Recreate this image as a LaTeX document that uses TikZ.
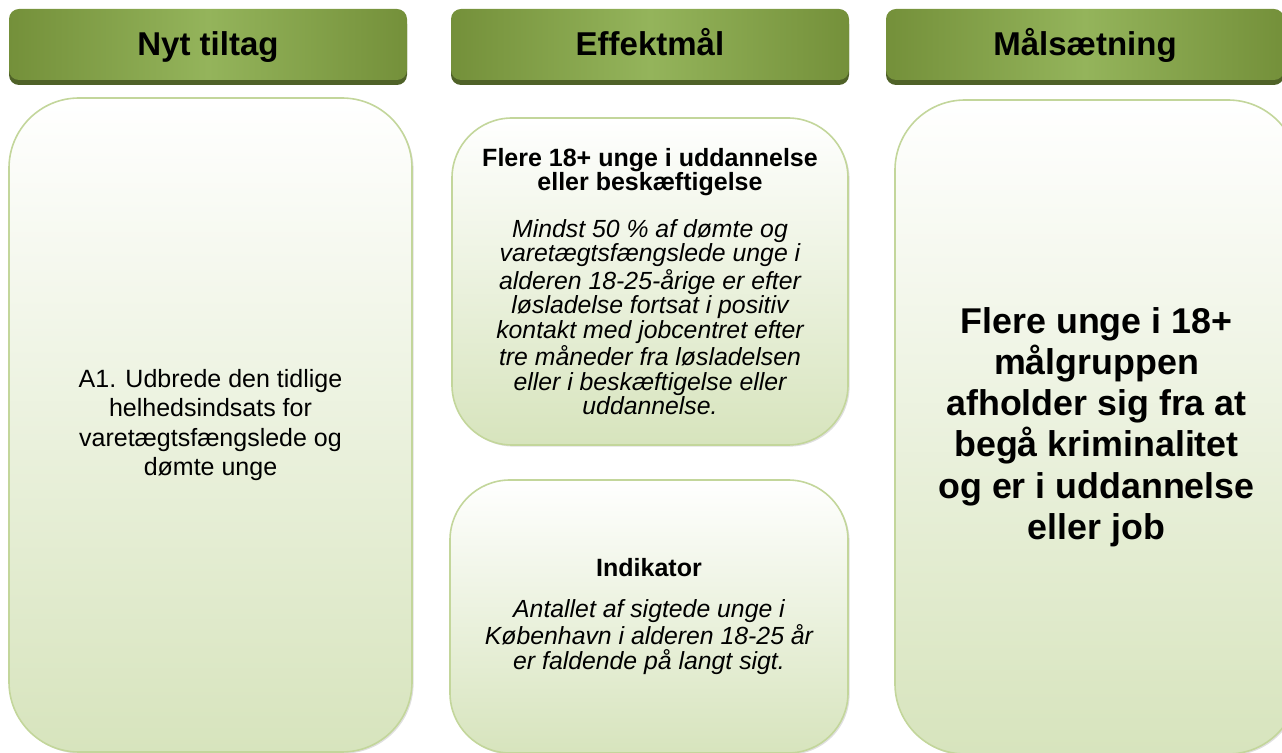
\documentclass[tikz,border=0pt]{standalone}
\usepackage{fontspec}
\setmainfont{Liberation Sans}
\usetikzlibrary{shadows}
\definecolor{hdgreen}{HTML}{74903A}
\definecolor{hdlight}{HTML}{94B45B}
\definecolor{hddark}{HTML}{4F6228}
\definecolor{panelgreen}{HTML}{D7E4BD}
\definecolor{panelline}{HTML}{C3D69B}

\begin{document}
\begin{tikzpicture}[x=0.5pt,y=-0.5pt,
    headbox/.style={rounded corners=5pt, minimum width=199pt, minimum height=35.5pt, inner sep=0pt,
        left color=hdgreen, right color=hdgreen, middle color=hdlight,
        text height=15pt, text depth=3.5pt,
        font=\bfseries\fontsize{16.5}{19}\selectfont},
    headshadow/.style={rounded corners=5pt, minimum width=199pt, minimum height=35.5pt, fill=hddark},
    panel/.style={rounded corners=35pt, draw=panelline, line width=0.8pt, inner sep=0pt,
        top color=white, bottom color=panelgreen, align=center,
        drop shadow={shadow xshift=0.8pt, shadow yshift=-0.8pt, opacity=0.25}}]
    \useasboundingbox (0,0) rectangle (1282,753);

    % column headers
    \foreach \name/\cx/\txt in {nyt/208/Nyt tiltag, effekt/650/Effektmål, maal/1085/Målsætning}{
        \node[headshadow] at (\cx,49.5) {};
        \node[headbox] (\name) at (\cx,44.5) {\txt};
    }

    % panels
    \node[panel, minimum width=201.5pt, minimum height=327pt,
          font=\fontsize{12.5}{14.6}\selectfont] (tiltag) at (210.5,425)
        {A1. Udbrede den tidlige\\helhedsindsats for\\varetægtsfængslede og\\dømte unge};

    \node[panel, minimum width=198pt, minimum height=163.5pt, rounded corners=30pt,
          font=\itshape\fontsize{12.4}{12.3}\selectfont] (effektA) at (650,281.5)
        {{\upshape\bfseries\fontsize{12.5}{13}\selectfont Flere 18+ unge i uddannelse}\\
         {\upshape\bfseries\fontsize{12.5}{13}\selectfont eller beskæftigelse}\\[11pt]
         Mindst 50 \% af dømte og\\varetægtsfængslede unge i\\alderen 18-25-årige er efter\\
         løsladelse fortsat i positiv\\kontakt med jobcentret efter\\tre måneder fra løsladelsen\\
         eller i beskæftigelse eller\\uddannelse.};

    \node[panel, minimum width=199pt, minimum height=136.5pt, rounded corners=30pt,
          font=\itshape\fontsize{12.4}{12.3}\selectfont] (effektB) at (649,616.5)
        {{\upshape\bfseries\fontsize{12.5}{13}\selectfont Indikator}\\[8pt]
         Antallet af sigtede unge i\\København i alderen 18-25 år\\er faldende på langt sigt.};

    \node[panel, minimum width=201.5pt, minimum height=327pt,
          font=\bfseries\fontsize{17.9}{20.6}\selectfont] (maalbox) at (1096.5,427)
        {Flere unge i 18+\\målgruppen\\afholder sig fra at\\begå kriminalitet\\og er i uddannelse\\eller job};
\end{tikzpicture}
\end{document}
